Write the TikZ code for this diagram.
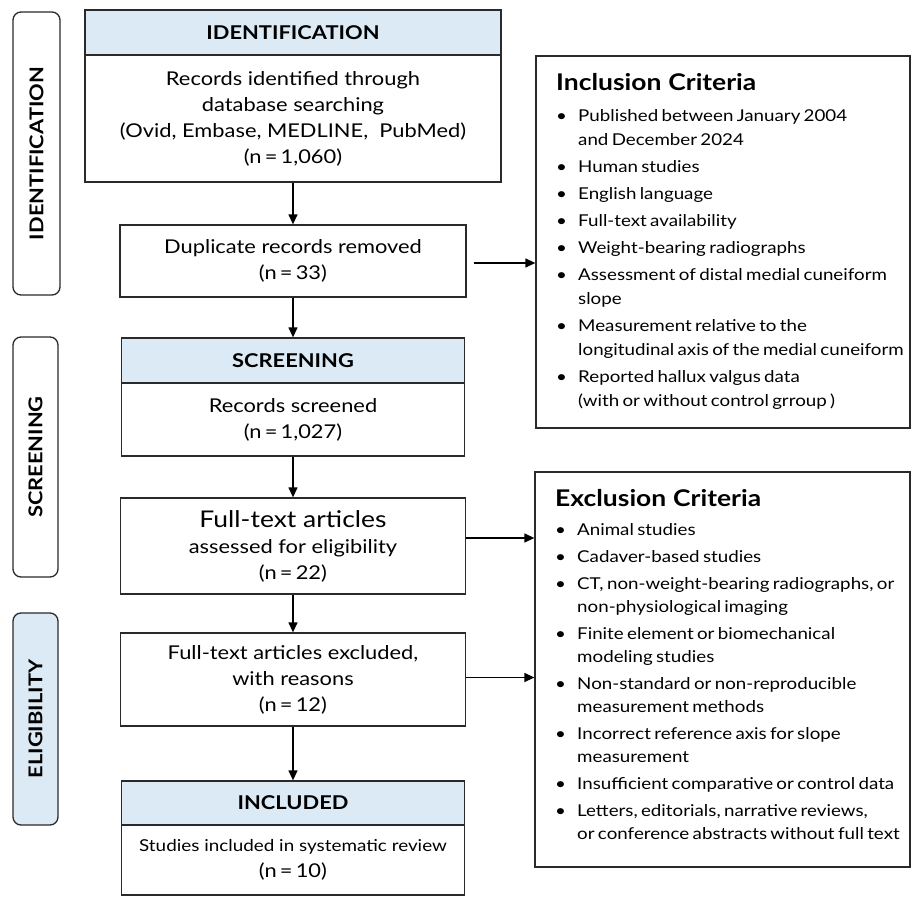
\documentclass[tikz,border=0pt]{standalone}
\usepackage{fontspec}
\setmainfont{Lato}[FakeStretch=1.15]
\usetikzlibrary{arrows.meta}
\definecolor{headblue}{HTML}{DCEAF5}
\definecolor{linegray}{HTML}{2A2A2A}
\newcommand{\critem}[1]{\par\hangindent=22pt\hangafter=1\noindent\makebox[22pt][l]{\textbullet}#1}
\begin{document}
\begin{tikzpicture}[x=1pt,y=-1pt]
        		\tikzstyle{stage}=[rectangle,rounded corners=8pt,draw=linegray,line width=1.3pt,inner sep=0pt,font=\fontsize{19}{19}\selectfont\bfseries]
        		\tikzstyle{header}=[rectangle,draw=linegray,line width=1.3pt,fill=headblue,inner sep=0pt,font=\fontsize{19}{19}\selectfont\bfseries]
        		\tikzstyle{record}=[rectangle,draw=linegray,line width=1.3pt,inner sep=0pt,align=center,font=\fontsize{19}{26}\selectfont]
        		\tikzstyle{criteria}=[rectangle,draw=linegray,line width=1.3pt,inner sep=0pt]
        		\tikzstyle{crittext}=[anchor=north west,text width=352pt,inner sep=0pt]
        		\tikzstyle{edge}=[draw,line width=1.3pt,-{Triangle[length=10pt,width=9pt]}]
        		\useasboundingbox (0,0) rectangle (911,897);
       			\begin{scope}
			        % stage labels
			        \node [stage,minimum width=47pt,minimum height=283pt] (st1) at (36.5,153.5) {\rotatebox{90}{IDENTIFICATION}};
			        \node [stage,minimum width=45pt,minimum height=240pt] (st2) at (35.5,457) {\rotatebox{90}{SCREENING}};
			        \node [stage,fill=headblue,minimum width=45pt,minimum height=212pt] (st3) at (35.5,719) {\rotatebox{90}{ELIGIBILITY}};
			        % flow boxes
			        \node [header,minimum width=416pt,minimum height=45pt] (idh) at (293,32.5) {IDENTIFICATION};
			        \node [record,minimum width=416pt,minimum height=127pt] (idb) at (293,118.5) {Records identified through\\database searching\\(Ovid, Embase, MEDLINE,\ \ PubMed)\\(n\,=\,1,060)};
			        \node [record,minimum width=346pt,minimum height=72pt] (dup) at (293,261) {Duplicate records removed\\(n\,=\,33)};
			        \node [header,minimum width=343pt,minimum height=45pt] (scrh) at (293,360.5) {SCREENING};
			        \node [record,minimum width=343pt,minimum height=73pt] (scrb) at (293,419.5) {Records screened\\(n\,=\,1,027)};
			        \node [record,minimum width=345pt,minimum height=96pt] (full) at (293,546) {{\fontsize{23}{26}\selectfont Full-text articles}\\assessed for eligibility\\(n\,=\,22)};
			        \node [record,minimum width=345pt,minimum height=93pt] (excl) at (293,679.5) {Full-text articles excluded,\\with reasons\\(n\,=\,12)};
			        \node [header,minimum width=343pt,minimum height=44pt] (inch) at (293,803) {INCLUDED};
			        \node [record,minimum width=343pt,minimum height=70pt] (incb) at (293,860) {{\fontsize{16.4}{26}\selectfont Studies included in systematic review}\\(n\,=\,10)};
			        % criteria boxes
			        \node [criteria,minimum width=374pt,minimum height=372pt] (inc) at (723,242) {};
			        \node [crittext] (inctext) at (556,73) {\raggedright{\fontsize{23}{26}\selectfont\bfseries Inclusion\hspace{0.3em}Criteria\par}\vspace{4pt}\fontsize{16.3}{24}\selectfont\setlength{\parskip}{3pt}%
			            \critem{Published between January 2004\newline and December 2024}
			            \critem{Human studies}
			            \critem{English language}
			            \critem{Full-text availability}
			            \critem{Weight-bearing radiographs}
			            \critem{Assessment of distal medial cuneiform\newline slope}
			            \critem{Measurement relative to the\newline longitudinal axis of the medial cuneiform}
			            \critem{Reported hallux valgus data\newline (with or without control grroup )}\par};
			        \node [criteria,minimum width=375pt,minimum height=395pt] (exc) at (722.5,669.5) {};
			        \node [crittext] (exctext) at (555,489) {\raggedright{\fontsize{23}{26}\selectfont\bfseries Exclusion\hspace{0.3em}Criteria\par}\vspace{2pt}\fontsize{16.3}{23}\selectfont\setlength{\parskip}{4pt}%
			            \critem{Animal studies}
			            \critem{Cadaver-based studies}
			            \critem{CT, non-weight-bearing radiographs, or\newline non-physiological imaging}
			            \critem{Finite element or biomechanical\newline modeling studies}
			            \critem{Non-standard or non-reproducible\newline measurement methods}
			            \critem{Incorrect reference axis for slope\newline measurement}
			            \critem{Insufficient comparative or control data}
			            \critem{Letters, editorials, narrative reviews,\newline or conference abstracts without full text}\par};
			        % connectors
			        \path[edge] (idb) -- (dup);
			        \path[edge] (dup) -- (scrh);
			        \path[edge] (scrb) -- (full);
			        \path[edge] (full) -- (excl);
			        \path[edge] (excl) -- (inch);
			        \path[edge, shorten <=7pt] ([yshift=-2pt]dup.east) -- ([yshift=-2pt]dup.east -| inc.west);
			        \path[edge] ([yshift=8pt]full.east) -- ([yshift=8pt]full.east -| exc.west);
			        \path[edge] ([yshift=2pt]excl.east) -- ([yshift=2pt]excl.east -| exc.west);
			    \end{scope}
     		\end{tikzpicture}
\end{document}
